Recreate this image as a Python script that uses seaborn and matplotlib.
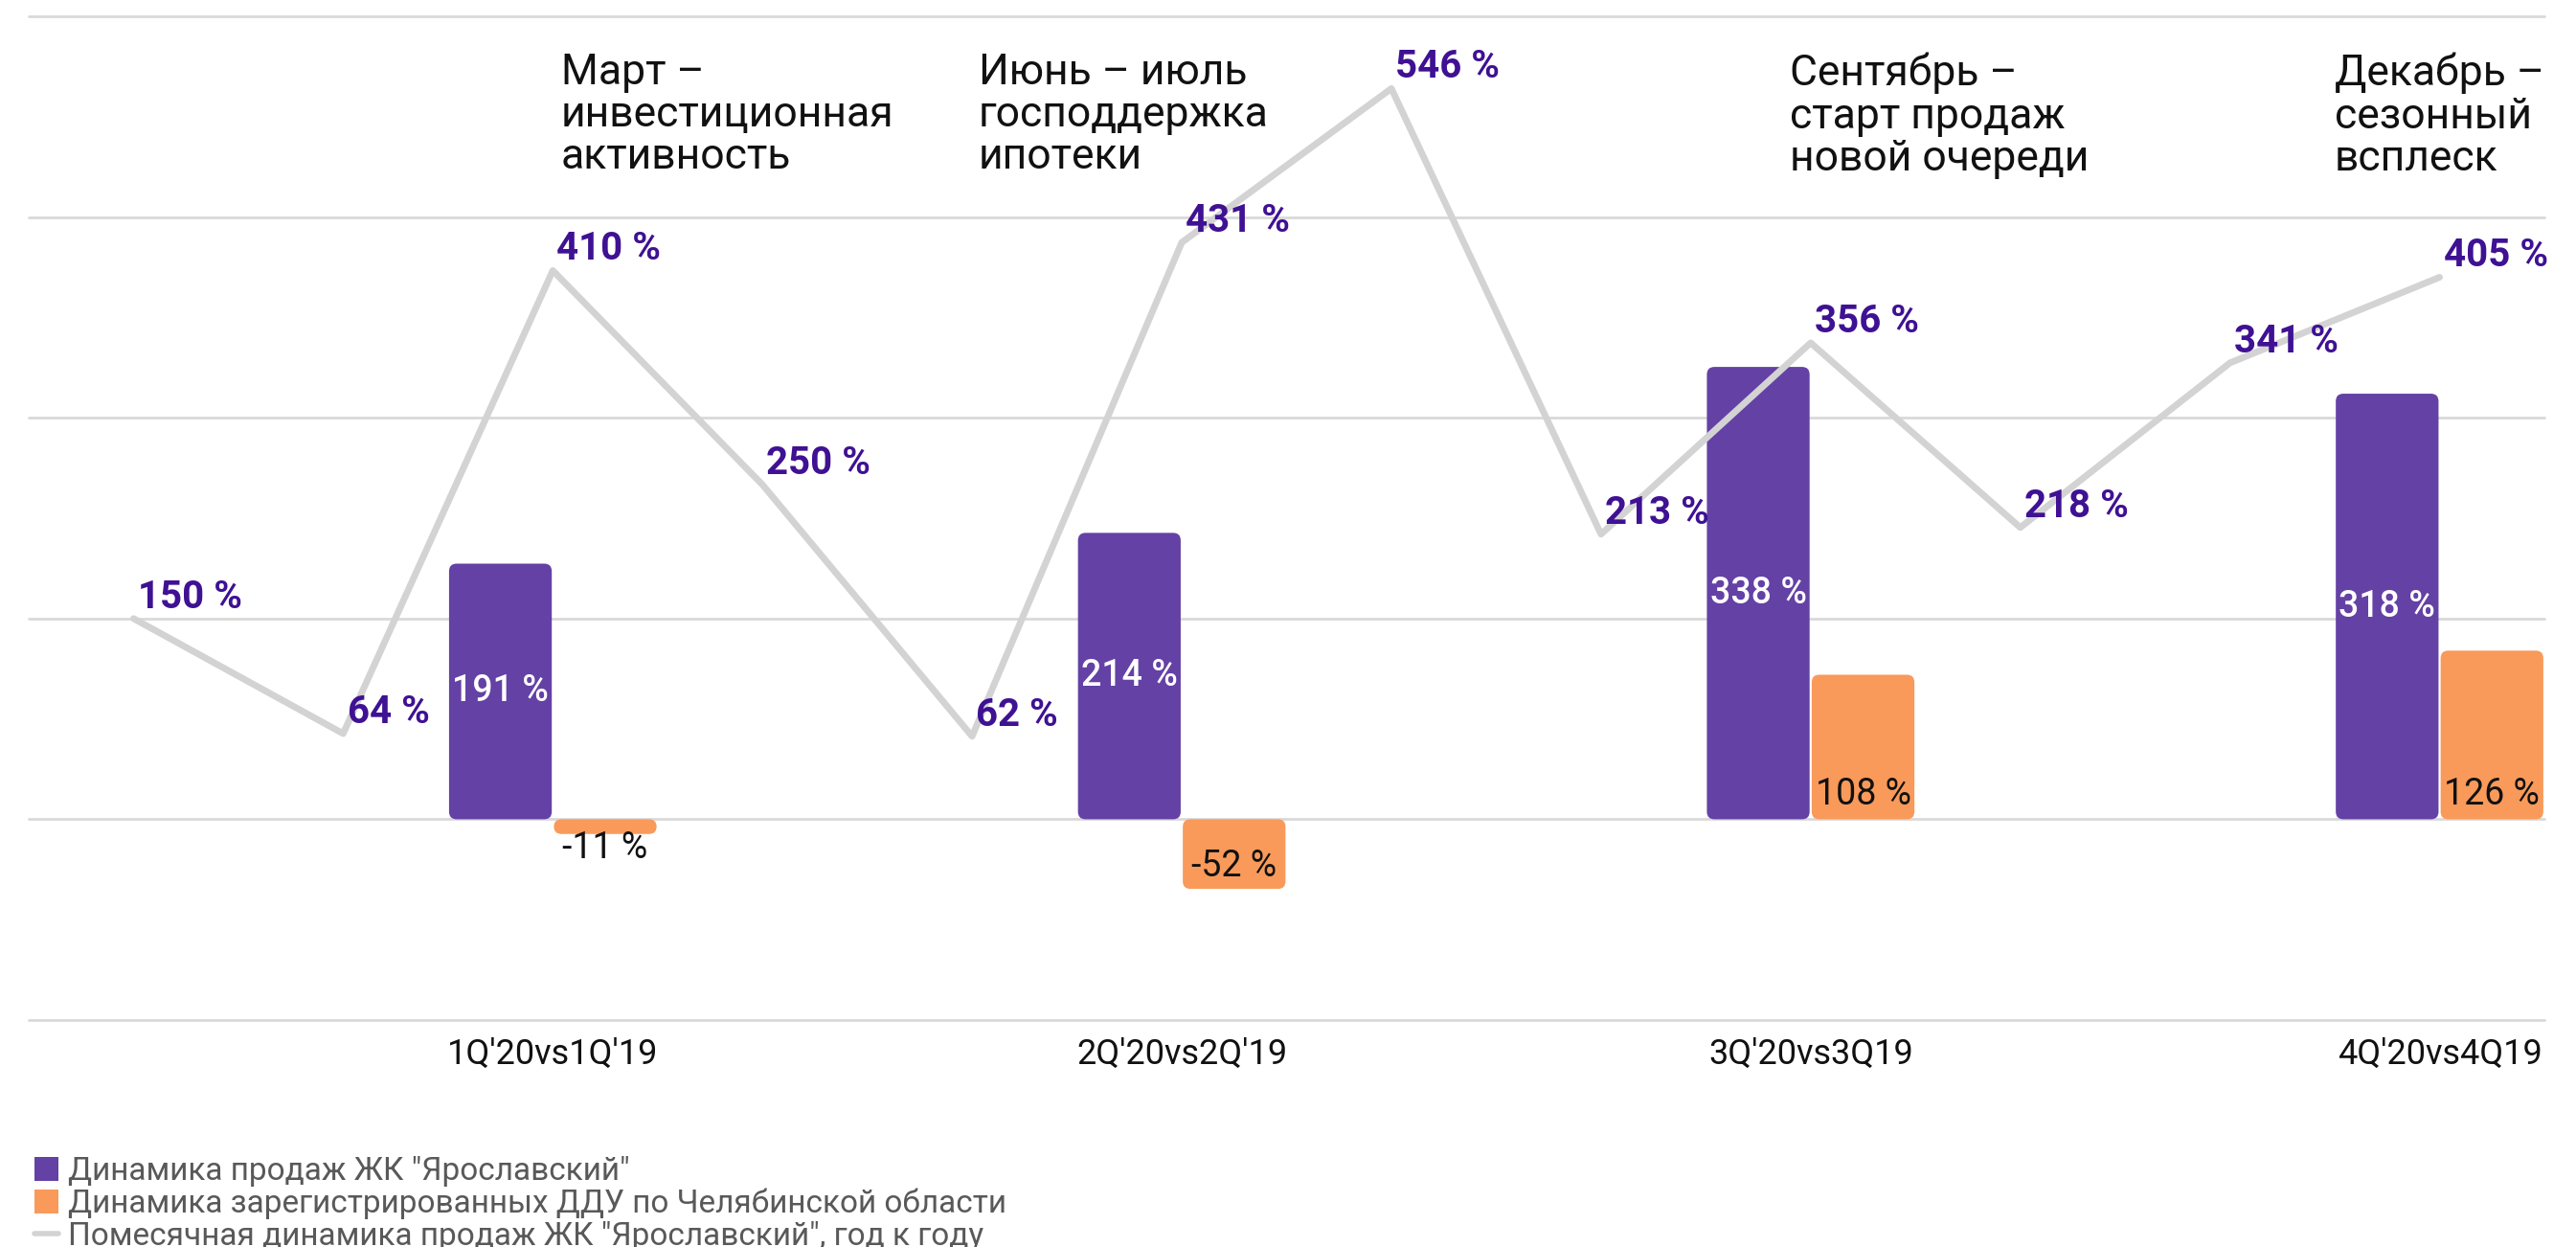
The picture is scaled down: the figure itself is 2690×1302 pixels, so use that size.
import pandas as pd
import matplotlib.pyplot as plt
import seaborn as sns
from matplotlib.patches import FancyBboxPatch, Patch
from matplotlib.lines import Line2D

# Данные
quarters = ["1Q'20vs1Q'19", "2Q'20vs2Q'19", "3Q'20vs3Q19", "4Q'20vs4Q19"]
quarter_pos = [3, 6, 9, 12]
sales_q = [191, 214, 338, 318]
ddu_q = [-11, -52, 108, 126]
months = list(range(1, 13))
sales_m = [150, 64, 410, 250, 62, 431, 546, 213, 356, 218, 341, 405]

notes = ['Март –\nинвестиционная\nактивность',
         'Июнь – июль\nгосподдержка\nипотеки',
         'Сентябрь –\nстарт продаж\nновой очереди',
         'Декабрь –\nсезонный\nвсплеск']
note_pos = [3.04, 5.03, 8.9, 11.5]

name_sales = 'Динамика продаж ЖК "Ярославский"'
name_ddu = 'Динамика зарегистрированных ДДУ по Челябинской области'
name_line = 'Помесячная динамика продаж ЖК "Ярославский", год к году'

purple = '#6441A5'
orange = '#F99A5A'
line_gray = '#D3D3D3'
label_purple = '#3F1193'

sns.set_style('white')
plt.rcParams['font.family'] = ['Roboto', 'DejaVu Sans']

df = pd.DataFrame({
    'pos': quarter_pos + quarter_pos,
    'value': sales_q + ddu_q,
    'series': [name_sales] * 4 + [name_ddu] * 4,
})

fig = plt.figure(figsize=(26.9, 13.02), dpi=100)
ax = fig.add_axes([0.01115, 0.18203, 0.97658, 0.80491])

sns.barplot(data=df, x='pos', y='value', hue='series', native_scale=True,
            palette=[purple, orange], saturation=1, width=1 / 3, gap=0.02,
            errorbar=None, legend=False, ax=ax)

# скруглённые столбцы
bars = list(ax.patches)
rounded = []
for bar in bars:
    x0, y0 = bar.get_x(), bar.get_y()
    w, h = bar.get_width(), bar.get_height()
    fc = bar.get_facecolor()
    bar.remove()
    lo = min(y0, y0 + h)
    fb = FancyBboxPatch((x0, lo), w, abs(h),
                        boxstyle='round,pad=0,rounding_size=0.036',
                        mutation_aspect=157, fc=fc, ec='none', zorder=2)
    ax.add_patch(fb)
    rounded.append((x0 + w / 2, h, fc))

# подписи столбцов
for i, (xc, h, fc) in enumerate(rounded):
    if i < 4:
        ax.text(xc, h / 2, f'{h:.0f} %', ha='center', va='center',
                color='white', fontsize=27, fontweight='medium', zorder=6)
    elif h > 0:
        ax.annotate(f'{h:.0f} %', (xc, 0), xytext=(0, 11), textcoords='offset points',
                    ha='center', va='baseline', color='#111111', fontsize=27, zorder=6)
    elif h < -30:
        ax.annotate(f'{h:.0f} %', (xc, h), xytext=(0, 4), textcoords='offset points',
                    ha='center', va='bottom', color='#111111', fontsize=27, zorder=6)
    else:
        ax.annotate(f'{h:.0f} %', (xc, h), xytext=(0, 3), textcoords='offset points',
                    ha='center', va='top', color='#111111', fontsize=27, zorder=6)

# помесячная линия
sns.lineplot(x=months, y=sales_m, color=line_gray, lw=5, ax=ax, zorder=3)
for m, v in zip(months, sales_m):
    ax.annotate(f'{v} %', (m, v), xytext=(3, 16), textcoords='offset points',
                ha='left', va='center', color=label_purple, fontsize=29,
                fontweight='bold', zorder=6)

# комментарии
for x, t in zip(note_pos, notes):
    ax.text(x, 573, t, ha='left', va='top', fontsize=32, color='#111111',
            linespacing=1.07, zorder=6)

ax.set_xlim(0.5, 12.5)
ax.set_ylim(-150, 600)
ax.set_yticks([-150, 0, 150, 300, 450, 600])
ax.set_yticklabels([])
ax.set_xticks(quarter_pos, quarters)
ax.tick_params(axis='both', length=0)
ax.tick_params(axis='x', labelsize=26, pad=13, labelcolor='#111111')
ax.set_xlabel('')
ax.set_ylabel('')
ax.grid(axis='y', color='#D9D9D9', lw=2)
ax.grid(axis='x', visible=False)
ax.set_axisbelow(True)
for gl in ax.get_ygridlines():
    gl.set_clip_on(False)
sns.despine(ax=ax, left=True, bottom=True)

handles = [Patch(fc=purple, ec='none'), Patch(fc=orange, ec='none'),
           Line2D([], [], color=line_gray, lw=4)]
fig.legend(handles, [name_sales, name_ddu, name_line], loc='upper left',
           bbox_to_anchor=(0.0135, 0.073), frameon=False, fontsize=24,
           labelcolor='#595959', handlelength=0.75, handleheight=0.75,
           handletextpad=0.3, labelspacing=0.05, borderpad=0, borderaxespad=0)

fig.savefig('out.png', dpi=100, facecolor='white')
